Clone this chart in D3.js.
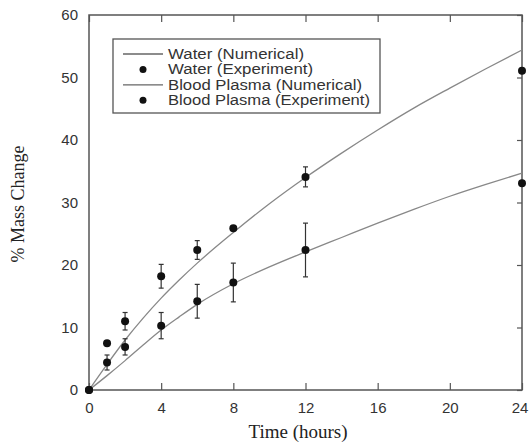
<!DOCTYPE html>
<html><head><meta charset="utf-8">
<script src="https://cdn.jsdelivr.net/npm/d3@7"></script>
<style>body{margin:0;background:#fff}svg{display:block}</style>
</head><body>
<script>
// ---- data ----
const time = [0, 1, 2, 4, 6, 8, 12, 24];
const waterExp = [0, 7.5, 11.0, 18.2, 22.4, 25.9, 34.1, 51.1];
const waterErr = [0, 0, 1.4, 1.9, 1.5, 0, 1.6, 0];
const bloodExp = [0, 4.4, 6.9, 10.3, 14.2, 17.2, 22.4, 33.1];
const bloodErr = [0, 1.2, 1.3, 2.1, 2.7, 3.1, 4.3, 0];
const numTime = [0, 1, 2, 3, 4, 5, 6, 8, 10, 12, 14, 16, 18, 20, 22, 24];
const waterNum = [0, 4.1, 8.0, 11.5, 14.7, 17.6, 20.3, 25.2, 29.8, 34.0, 37.9, 41.6, 45.1, 48.3, 51.4, 54.4];
const bloodNum = [0, 2.3, 4.7, 7.2, 9.6, 11.7, 13.7, 17.0, 19.7, 22.1, 24.4, 26.7, 28.9, 31.0, 32.9, 34.7];
const xTicks = [0, 4, 8, 12, 16, 20, 24];
const yTicks = [0, 10, 20, 30, 40, 50, 60];
const legendItems = [
  {label: "Water (Numerical)", kind: "line", len: 136},
  {label: "Water (Experiment)", kind: "dot", len: 145},
  {label: "Blood Plasma (Numerical)", kind: "line", len: 194},
  {label: "Blood Plasma (Experiment)", kind: "dot", len: 202}
];

const W = 529, H = 444;
const m = {l: 89, r: 522, t: 15, b: 390};
const svg = d3.select("body").append("svg").attr("width", W).attr("height", H);
const x = d3.scaleLinear().domain([0, 24]).range([m.l, m.r]);
const y = d3.scaleLinear().domain([0, 60]).range([m.b, m.t]);
const axisCol = "#555";
const lineCol = "#888";

// frame
svg.append("rect").attr("x", m.l).attr("y", m.t).attr("width", m.r - m.l).attr("height", m.b - m.t)
  .attr("fill", "none").attr("stroke", axisCol).attr("stroke-width", 1.5);

// bottom axis (inward ticks)
const gx = svg.append("g").attr("transform", `translate(0,${m.b})`)
  .call(d3.axisBottom(x).tickValues(xTicks).tickSizeInner(-7).tickSizeOuter(0).tickPadding(12));
gx.select(".domain").remove();
gx.selectAll("line").attr("stroke", axisCol).attr("stroke-width", 1.2);
gx.selectAll("text").attr("font-family", "Liberation Sans, Arial, sans-serif").attr("font-size", 15).attr("fill", "#333");
gx.selectAll("text").filter(d => d === 24).attr("dx", -2.5);

// top ticks
const gt = svg.append("g").attr("transform", `translate(0,${m.t})`)
  .call(d3.axisTop(x).tickValues(xTicks).tickSizeInner(-7).tickSizeOuter(0).tickFormat(""));
gt.select(".domain").remove();
gt.selectAll("line").attr("stroke", axisCol).attr("stroke-width", 1.2);

// left axis labels
const gy = svg.append("g").attr("transform", `translate(${m.l},0)`)
  .call(d3.axisLeft(y).tickValues(yTicks).tickSize(0).tickPadding(11));
gy.select(".domain").remove();
gy.selectAll("text").attr("font-family", "Liberation Sans, Arial, sans-serif").attr("font-size", 15).attr("fill", "#333");

// right ticks
const gr = svg.append("g").attr("transform", `translate(${m.r},0)`)
  .call(d3.axisRight(y).tickValues(yTicks).tickSizeInner(-5).tickSizeOuter(0).tickFormat(""));
gr.select(".domain").remove();
gr.selectAll("line").attr("stroke", axisCol).attr("stroke-width", 1.2);

// axis titles
svg.append("text").attr("x", 298).attr("y", 438).attr("text-anchor", "middle")
  .attr("font-family", "Liberation Serif, Times New Roman, serif").attr("font-size", 19).attr("fill", "#222")
  .text("Time (hours)");
svg.append("text").attr("transform", "translate(24,204) rotate(-90)").attr("text-anchor", "middle")
  .attr("font-family", "Liberation Serif, Times New Roman, serif").attr("font-size", 18).attr("fill", "#222")
  .text("% Mass Change");

// numerical curves
const line = d3.line().x(d => x(d[0])).y(d => y(d[1])).curve(d3.curveMonotoneX);
[waterNum, bloodNum].forEach(vals => {
  svg.append("path").datum(numTime.map((t, i) => [t, vals[i]]))
    .attr("d", line).attr("fill", "none").attr("stroke", lineCol).attr("stroke-width", 1.3);
});

// experimental points with error bars
function drawExp(vals, errs) {
  const g = svg.append("g");
  const data = time.map((t, i) => ({t, v: vals[i], e: errs[i]}));
  const eb = data.filter(d => d.e > 0);
  g.selectAll(".ev").data(eb).join("line")
    .attr("x1", d => x(d.t)).attr("x2", d => x(d.t))
    .attr("y1", d => y(d.v - d.e)).attr("y2", d => y(d.v + d.e))
    .attr("stroke", "#333").attr("stroke-width", 1.2);
  [-1, 1].forEach(s => {
    g.selectAll(".ec" + s).data(eb).join("line")
      .attr("x1", d => x(d.t) - 2.5).attr("x2", d => x(d.t) + 2.5)
      .attr("y1", d => y(d.v + s * d.e)).attr("y2", d => y(d.v + s * d.e))
      .attr("stroke", "#333").attr("stroke-width", 1.2);
  });
  g.selectAll("circle").data(data).join("circle")
    .attr("cx", d => x(d.t)).attr("cy", d => y(d.v)).attr("r", 4).attr("fill", "#111");
}
drawExp(waterExp, waterErr);
drawExp(bloodExp, bloodErr);

// legend
const lg = svg.append("g");
lg.append("rect").attr("x", 113).attr("y", 39).attr("width", 267).attr("height", 74)
  .attr("fill", "#fff").attr("stroke", axisCol).attr("stroke-width", 1.3);
legendItems.forEach((it, i) => {
  const cy = 54 + i * 15.4;
  if (it.kind === "line") {
    lg.append("line").attr("x1", 123).attr("x2", 163).attr("y1", cy).attr("y2", cy)
      .attr("stroke", "#666").attr("stroke-width", 1.3);
  } else {
    lg.append("circle").attr("cx", 143).attr("cy", cy).attr("r", 3.5).attr("fill", "#111");
  }
  lg.append("text").attr("x", 168).attr("y", cy + 5)
    .attr("font-family", "Liberation Sans, Arial, sans-serif").attr("font-size", 14).attr("fill", "#333")
    .attr("textLength", it.len).attr("lengthAdjust", "spacingAndGlyphs")
    .text(it.label);
});
</script>
</body></html>
